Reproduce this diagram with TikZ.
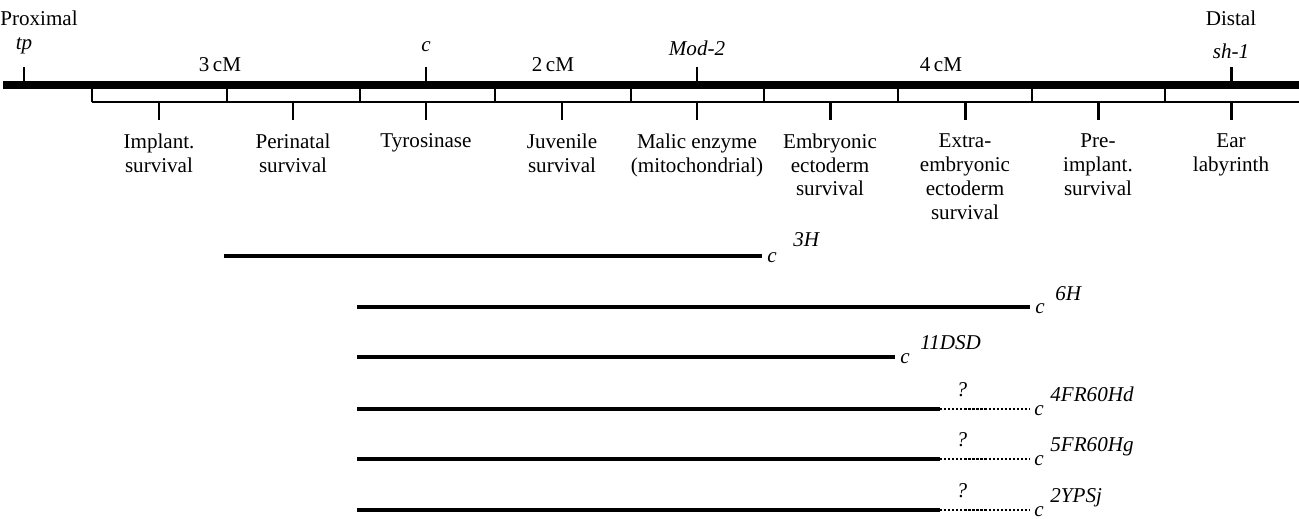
\documentclass[tikz,border=0pt]{standalone}
\usepackage{fontspec}
\setmainfont{Liberation Serif}
\usetikzlibrary{positioning}

\tikzset{
    chromosome/.style={line width=4pt},
    marker/.style={line width=1.7pt},
    bracket/.style={line width=1.1pt},
    deletion/.style={line width=2.2pt},
    uncertain/.style={line width=1.3pt, densely dotted},
    locus/.style={font=\fontsize{12}{13.6}\selectfont\itshape, inner sep=0pt, anchor=base},
    plain/.style={inner sep=0pt, anchor=base},
    function/.style={align=center, inner sep=0pt, anchor=north},
}

\begin{document}
\begin{tikzpicture}[x=0.02cm, y=-0.02cm, font=\fontsize{12}{13.6}\selectfont]
    \useasboundingbox (0,0) rectangle (1299,519);

    \coordinate (chr-l) at (3,85);
    \coordinate (chr-r) at (1299,85);
    \draw[chromosome] (chr-l) -- (chr-r);

    % loci above the chromosome
    \foreach \x/\y/\name/\lab in {24/50/tp/tp, 426/52/c/c, 697/56/mod/Mod-2, 1231/59/sh/sh-1}{
        \coordinate (\name-top) at (\x,67);
        \coordinate (\name-bot) at (\x,83);
        \draw[marker] (\name-top) -- (\name-bot);
        \node[locus] (\name-lab) at (\x,\y) {\lab};
    }
    \node[plain, anchor=base west] (proximal) at (0,26) {Proximal};
    \node[plain] (distal) at (1231,26) {Distal};

    \node[plain] (dist1) at (220,72) {3\,cM};
    \node[plain] (dist2) at (553,72) {2\,cM};
    \node[plain] (dist3) at (941,72) {4\,cM};

    % bracket under the chromosome
    \coordinate (br-l) at (92,102);
    \coordinate (br-r) at (1299,102);
    \draw[bracket] (br-l) -- (br-r);
    \foreach \x [count=\i] in {92,227,360,495,631,764,898,1032,1165}{
        \coordinate (div\i-t) at (\x,88);
        \coordinate (div\i-b) at (\x,102);
        \draw[bracket] (div\i-t) -- (div\i-b);
    }

    % functions
    \foreach \x/\name/\txt in {159/implant/{Implant.\\survival},
                               293/perinatal/{Perinatal\\survival},
                               426/tyrosinase/{Tyrosinase},
                               562/juvenile/{Juvenile\\survival},
                               697/malic/{Malic enzyme\\(mitochondrial)},
                               830/embecto/{Embryonic\\ectoderm\\survival},
                               965/extraecto/{Extra-\\embryonic\\ectoderm\\survival},
                               1098/preimplant/{Pre-\\implant.\\survival},
                               1231/ear/{Ear\\labyrinth}}{
        \coordinate (\name-t) at (\x,102);
        \coordinate (\name-b) at (\x,120);
        \draw[marker] (\name-t) -- (\name-b);
        \node[function, below=7.5pt of \name-b] (\name-lab) {\txt};
    }

    % deletions
    \foreach \name/\y/\xa/\xb in {del3H/256/224/762, del6H/307/357/1030, delDSD/357/357/895}{
        \coordinate (\name-l) at (\xa,\y);
        \coordinate (\name-r) at (\xb,\y);
        \draw[deletion] (\name-l) -- (\name-r);
        \node[locus, anchor=base west] (\name-c) at ([shift={(5,7)}]\name-r) {c};
    }
    \node[locus, anchor=base west] (del3H-s) at ([shift={(16,-16)}]del3H-c.base east) {3H};
    \node[locus, anchor=base west] (del6H-s) at ([shift={(10,-13)}]del6H-c.base east) {6H};
    \node[locus, anchor=base west] (delDSD-s) at ([shift={(10,-14)}]delDSD-c.base east) {11DSD};

    \foreach \name/\y/\sup in {delFRd/409/4FR60Hd, delFRg/459/5FR60Hg, delYPS/510/2YPSj}{
        \coordinate (\name-l) at (357,\y);
        \coordinate (\name-m) at (940,\y);
        \coordinate (\name-r) at (1030,\y);
        \draw[deletion] (\name-l) -- (\name-m);
        \draw[uncertain] (\name-m) -- (\name-r);
        \node[locus] (\name-q) at (962,\y-12) {?};
        \node[locus, anchor=base west] (\name-c) at ([shift={(4,7)}]\name-r) {c};
        \node[locus, anchor=base west] (\name-s) at ([shift={(6,-14)}]\name-c.base east) {\sup};
    }
\end{tikzpicture}
\end{document}
